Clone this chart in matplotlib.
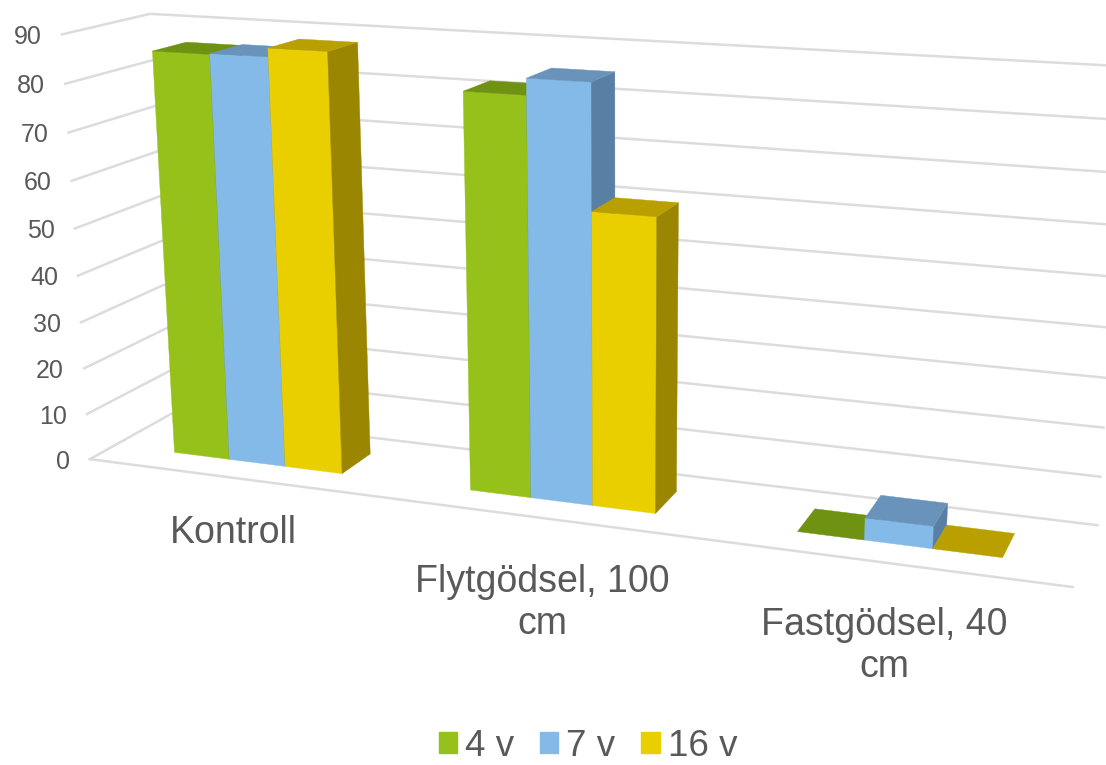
import numpy as np
import matplotlib
matplotlib.use("Agg")
import matplotlib.pyplot as plt
from matplotlib.patches import Polygon, Patch

plt.rcParams['font.family'] = ['Liberation Sans', 'DejaVu Sans']

categories = ["Kontroll", "Flytgödsel, 100\ncm", "Fastgödsel, 40\ncm"]
series_names = ["4 v", "7 v", "16 v"]
values_4v = [86, 81.8, 0]
values_7v = [86.2, 85.1, 4.5]
values_16v = [88, 60, 0]
y_ticks = list(range(0, 100, 10))

front_colors = ["#95C11A", "#83BAE8", "#E9CE00"]
top_colors = ["#6F9212", "#6A93BC", "#B9A000"]
side_colors = ["#5F7D10", "#5A7FA5", "#9A8600"]
GRID = "#DCDCDC"
TEXT = "#595959"

# Camera fit: scene position (category axis, value, depth) -> picture position
BAR = 1 / (3 + 2.19)
E0 = (1 - 3 * BAR) / 2
D0, D1 = 0.3, 0.7
calib = [
    ((0, 90, 0), (62, 35)), ((0, 0, 0), (90, 459)), ((0, 90, 1), (150, 14)),
    ((3, 90, 1), (1125, 65.5)), ((3, 0, 1), (1097, 526)), ((3, 0, 0), (1073, 587)),
    ((E0, 0, D0), (174, 452)), ((E0 + 3 * BAR, 0, D0), (342, 473)),
    ((1 + E0, 0, D0), (470, 490)), ((1 + E0 + 3 * BAR, 0, D0), (656, 513)),
    ((2 + E0, 0, D0), (798, 532)), ((2 + E0 + 3 * BAR, 0, D0), (1002, 558)),
    ((E0 + 3 * BAR, 0, D1), (370, 454)), ((1 + E0 + 3 * BAR, 0, D1), (678, 492)),
    ((2 + E0 + 3 * BAR, 0, D1), (1014, 533)), ((2 + E0, 0, D1), (815, 509)),
]
A, b = [], []
for (u, v, d), (x, y) in calib:
    v = v / 30
    A.append([u, v, d, 1, 0, 0, 0, 0, -x * u, -x * v, -x * d]); b.append(x)
    A.append([0, 0, 0, 0, u, v, d, 1, -y * u, -y * v, -y * d]); b.append(y)
sol = np.linalg.lstsq(np.array(A, float), np.array(b, float), rcond=None)[0]
P = np.append(sol, 1.0).reshape(3, 4)


def project(u, v, d):
    p = P @ np.array([u, v / 30, d, 1.0])
    return p[0] / p[2], p[1] / p[2]


fig = plt.figure(figsize=(11.06, 7.65), dpi=100)
ax = fig.add_axes([0, 0, 1, 1])
ax.set_xlim(0, 1106)
ax.set_ylim(765, 0)
ax.axis("off")

# Gridlines on the two walls and the floor edges
for t in y_ticks:
    pts = [project(0, t, 0), project(0, t, 1), project(3, t, 1)]
    ax.plot(*zip(*pts), color=GRID, lw=1.8, solid_joinstyle="miter", zorder=1)
    x, y = project(0, t, 0)
    ax.text(x - 20, y + 2.5, str(t), ha="right", va="center", fontsize=18, color=TEXT)
ax.plot(*zip(project(0, 0, 0), project(3, 0, 0)), color=GRID, lw=1.8, zorder=1)

# Bars
all_values = [values_4v, values_7v, values_16v]
z = 2
for c in range(len(categories)):
    for s in range(3):
        val = all_values[s][c]
        u0 = c + E0 + s * BAR
        u1 = u0 + BAR
        faces = []
        if val > 0:
            faces.append(([(u0, 0, D0), (u1, 0, D0), (u1, val, D0), (u0, val, D0)], front_colors[s]))
            faces.append(([(u1, 0, D0), (u1, 0, D1), (u1, val, D1), (u1, val, D0)], side_colors[s]))
        faces.append(([(u0, val, D0), (u1, val, D0), (u1, val, D1), (u0, val, D1)], top_colors[s]))
        for quad, col in faces:
            ax.add_patch(Polygon([project(*q) for q in quad], closed=True, facecolor=col,
                                 edgecolor=col, lw=0.3, zorder=z))
        z += 1

# Category labels
label_pos = [(233, 533), (542, 603), (884, 646)]
for name, (x, y) in zip(categories, label_pos):
    ax.text(x, y, name, ha="center", va="center", fontsize=27, color=TEXT,
            linespacing=1.2, zorder=10)

# Legend
handles = [Patch(facecolor=c, edgecolor=c, label=n) for c, n in zip(front_colors, series_names)]
ax.legend(handles=handles, ncols=3, loc="center", bbox_to_anchor=(588 / 1106, 1 - 746 / 765),
          frameon=False, fontsize=26.5, labelcolor=TEXT, handlelength=0.5, handleheight=0.5,
          handletextpad=0.22, columnspacing=0.7, borderpad=0, borderaxespad=0)

fig.savefig("out.png", dpi=100, facecolor="white")
